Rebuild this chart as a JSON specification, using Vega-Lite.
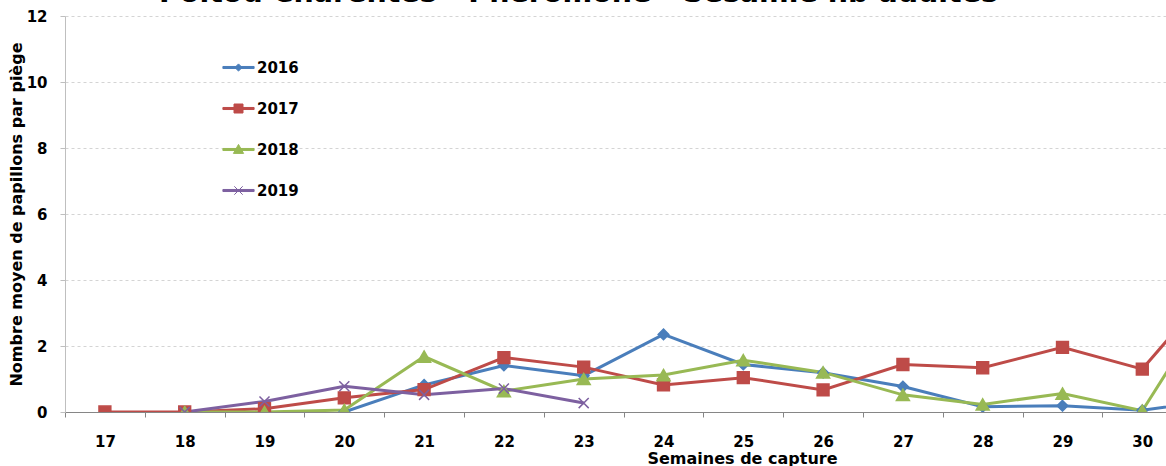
{
  "$schema": "https://vega.github.io/schema/vega-lite/v6.json",
  "autosize": {"type": "none"},
  "width": 1101,
  "height": 396,
  "padding": {"left": 65, "top": 16, "right": 0, "bottom": 54},
  "background": "white",
  "title": {
    "text": "Poitou Charentes  -  Phéromone  -  Sésamie nb adultes",
    "font": "DejaVu Sans",
    "fontSize": 28.5,
    "fontWeight": "bold",
    "color": "black",
    "anchor": "middle",
    "baseline": "alphabetic",
    "offset": -21,
    "dx": -37
  },
  "data": {
    "values": [
      {"week": 20, "year": "2016", "value": 0},
      {"week": 21, "year": "2016", "value": 0.82},
      {"week": 22, "year": "2016", "value": 1.41},
      {"week": 23, "year": "2016", "value": 1.1},
      {"week": 24, "year": "2016", "value": 2.35},
      {"week": 25, "year": "2016", "value": 1.44},
      {"week": 26, "year": "2016", "value": 1.19},
      {"week": 27, "year": "2016", "value": 0.77},
      {"week": 28, "year": "2016", "value": 0.16},
      {"week": 29, "year": "2016", "value": 0.19},
      {"week": 30, "year": "2016", "value": 0.05},
      {"week": 31, "year": "2016", "value": 0.4},
      {"week": 17, "year": "2017", "value": 0},
      {"week": 18, "year": "2017", "value": 0},
      {"week": 19, "year": "2017", "value": 0.1},
      {"week": 20, "year": "2017", "value": 0.43},
      {"week": 21, "year": "2017", "value": 0.68},
      {"week": 22, "year": "2017", "value": 1.65},
      {"week": 23, "year": "2017", "value": 1.36},
      {"week": 24, "year": "2017", "value": 0.82},
      {"week": 25, "year": "2017", "value": 1.04},
      {"week": 26, "year": "2017", "value": 0.67},
      {"week": 27, "year": "2017", "value": 1.44},
      {"week": 28, "year": "2017", "value": 1.34},
      {"week": 29, "year": "2017", "value": 1.96},
      {"week": 30, "year": "2017", "value": 1.3},
      {"week": 31, "year": "2017", "value": 4.1},
      {"week": 18, "year": "2018", "value": 0},
      {"week": 19, "year": "2018", "value": 0},
      {"week": 20, "year": "2018", "value": 0.06},
      {"week": 21, "year": "2018", "value": 1.68},
      {"week": 22, "year": "2018", "value": 0.63},
      {"week": 23, "year": "2018", "value": 1.0},
      {"week": 24, "year": "2018", "value": 1.12},
      {"week": 25, "year": "2018", "value": 1.57},
      {"week": 26, "year": "2018", "value": 1.2},
      {"week": 27, "year": "2018", "value": 0.52},
      {"week": 28, "year": "2018", "value": 0.23},
      {"week": 29, "year": "2018", "value": 0.56},
      {"week": 30, "year": "2018", "value": 0.04},
      {"week": 31, "year": "2018", "value": 3.85},
      {"week": 18, "year": "2019", "value": 0},
      {"week": 19, "year": "2019", "value": 0.32},
      {"week": 20, "year": "2019", "value": 0.78},
      {"week": 21, "year": "2019", "value": 0.52},
      {"week": 22, "year": "2019", "value": 0.71},
      {"week": 23, "year": "2019", "value": 0.27}
    ]
  },
  "encoding": {
    "x": {
      "field": "week",
      "type": "quantitative",
      "scale": {"domain": [16.5, 30.297], "nice": false, "zero": false},
      "axis": {
        "values": [17, 18, 19, 20, 21, 22, 23, 24, 25, 26, 27, 28, 29, 30],
        "format": "d",
        "title": "Semaines de capture",
        "titleFont": "DejaVu Sans",
        "titleFontSize": 16,
        "titleFontWeight": "bold",
        "titleColor": "black",
        "titleX": 677,
        "titleY": 51,
        "titleAlign": "center",
        "titleBaseline": "alphabetic",
        "labelFont": "DejaVu Sans",
        "labelFontSize": 15,
        "labelFontWeight": "bold",
        "labelColor": "black",
        "labelBaseline": "alphabetic",
        "labelPadding": 29,
        "labelFlush": false,
        "labelOverlap": false,
        "tickOffset": -39.9,
        "labelOffset": 39.9,
        "tickSize": 5,
        "tickColor": "#868686",
        "domainColor": "#868686",
        "grid": false
      }
    },
    "y": {
      "field": "value",
      "type": "quantitative",
      "scale": {"domain": [0, 12], "nice": false},
      "axis": {
        "values": [0, 2, 4, 6, 8, 10, 12],
        "title": "Nombre moyen de papillons par piège",
        "titleFont": "DejaVu Sans",
        "titleFontSize": 16,
        "titleFontWeight": "bold",
        "titleColor": "black",
        "titleAngle": -90,
        "titleX": -44,
        "titleY": 198,
        "titleAlign": "center",
        "titleBaseline": "alphabetic",
        "labelFont": "DejaVu Sans",
        "labelFontSize": 15,
        "labelFontWeight": "bold",
        "labelColor": "black",
        "labelPadding": 13,
        "tickSize": 5,
        "tickColor": "#bfbfbf",
        "domainColor": "#bfbfbf",
        "grid": true,
        "gridDash": [3, 3],
        "gridColor": "#d4d4d4"
      }
    }
  },
  "layer": [
    {
      "mark": {"type": "line", "strokeWidth": 3, "clip": true},
      "encoding": {
        "color": {
          "field": "year",
          "type": "nominal",
          "scale": {"domain": ["2016", "2017", "2018", "2019"], "range": ["#4A7EBB", "#BE4B48", "#98B954", "#7D60A0"]},
          "legend": null
        },
        "detail": {"field": "year"}
      }
    },
    {
      "mark": {"type": "point", "filled": true, "opacity": 1, "size": 140, "strokeWidth": 1.5, "clip": true},
      "encoding": {
        "color": {
          "field": "year",
          "type": "nominal",
          "scale": {"domain": ["2016", "2017", "2018", "2019"], "range": ["#4A7EBB", "#BE4B48", "#98B954", "#7D60A0"]},
          "legend": null
        },
        "stroke": {
          "field": "year",
          "type": "nominal",
          "scale": {"domain": ["2016", "2017", "2018", "2019"], "range": ["#4A7EBB", "#BE4B48", "#98B954", "#7D60A0"]},
          "legend": null
        },
        "shape": {
          "field": "year",
          "type": "nominal",
          "scale": {
            "domain": ["2016", "2017", "2018", "2019"],
            "range": [
              "M0,-0.9L0.9,0L0,0.9L-0.9,0Z",
              "M-1,-1H1V1H-1Z",
              "M0,-0.95L1.1,0.95H-1.1Z",
              "M-0.85,-0.85L0.85,0.85M-0.85,0.85L0.85,-0.85"
            ]
          },
          "legend": null
        }
      }
    },
    {
      "transform": [{"filter": "datum.week > 100"}],
      "mark": {"type": "point", "filled": true, "opacity": 1, "strokeWidth": 1},
      "encoding": {
        "color": {
          "field": "year",
          "type": "nominal",
          "scale": {"domain": ["2016", "2017", "2018", "2019"], "range": ["#4A7EBB", "#BE4B48", "#98B954", "#7D60A0"]},
          "legend": {
            "orient": "none",
            "legendX": 166,
            "legendY": 44,
            "title": null,
            "padding": 0,
            "symbolSize": 144,
            "symbolStrokeWidth": 1,
            "symbolOpacity": 1,
            "labelFont": "DejaVu Sans",
            "labelFontSize": 15,
            "labelFontWeight": "bold",
            "labelColor": "black",
            "labelOffset": 11,
            "rowPadding": 25
          }
        },
        "stroke": {
          "field": "year",
          "type": "nominal",
          "scale": {"domain": ["2016", "2017", "2018", "2019"], "range": ["#4A7EBB", "#BE4B48", "#98B954", "#7D60A0"]},
          "legend": {
            "orient": "none",
            "legendX": 166,
            "legendY": 44,
            "title": null,
            "padding": 0,
            "symbolSize": 144,
            "symbolStrokeWidth": 1,
            "symbolOpacity": 1,
            "labelFont": "DejaVu Sans",
            "labelFontSize": 15,
            "labelFontWeight": "bold",
            "labelColor": "black",
            "labelOffset": 11,
            "rowPadding": 25
          }
        },
        "shape": {
          "field": "year",
          "type": "nominal",
          "scale": {
            "domain": ["2016", "2017", "2018", "2019"],
            "range": [
              "M-2.6,-0.17H2.6V0.17H-2.6ZM0,-0.6L0.6,0L0,0.6L-0.6,0Z",
              "M-2.6,-0.17H2.6V0.17H-2.6ZM-0.75,-0.75H0.75V0.75H-0.75Z",
              "M-2.6,-0.17H2.6V0.17H-2.6ZM0,-0.85L0.85,0.65H-0.85Z",
              "M-2.6,-0.17H2.6V0.17H-2.6ZM-0.7,-0.7L0.7,0.7M-0.7,0.7L0.7,-0.7"
            ]
          },
          "legend": {
            "orient": "none",
            "legendX": 166,
            "legendY": 44,
            "title": null,
            "padding": 0,
            "symbolSize": 144,
            "symbolStrokeWidth": 1,
            "symbolOpacity": 1,
            "labelFont": "DejaVu Sans",
            "labelFontSize": 15,
            "labelFontWeight": "bold",
            "labelColor": "black",
            "labelOffset": 11,
            "rowPadding": 25
          }
        }
      }
    }
  ],
  "resolve": {"scale": {"color": "independent", "stroke": "independent", "shape": "independent"}},
  "config": {
    "view": {"stroke": null},
    "font": "DejaVu Sans"
  }
}
